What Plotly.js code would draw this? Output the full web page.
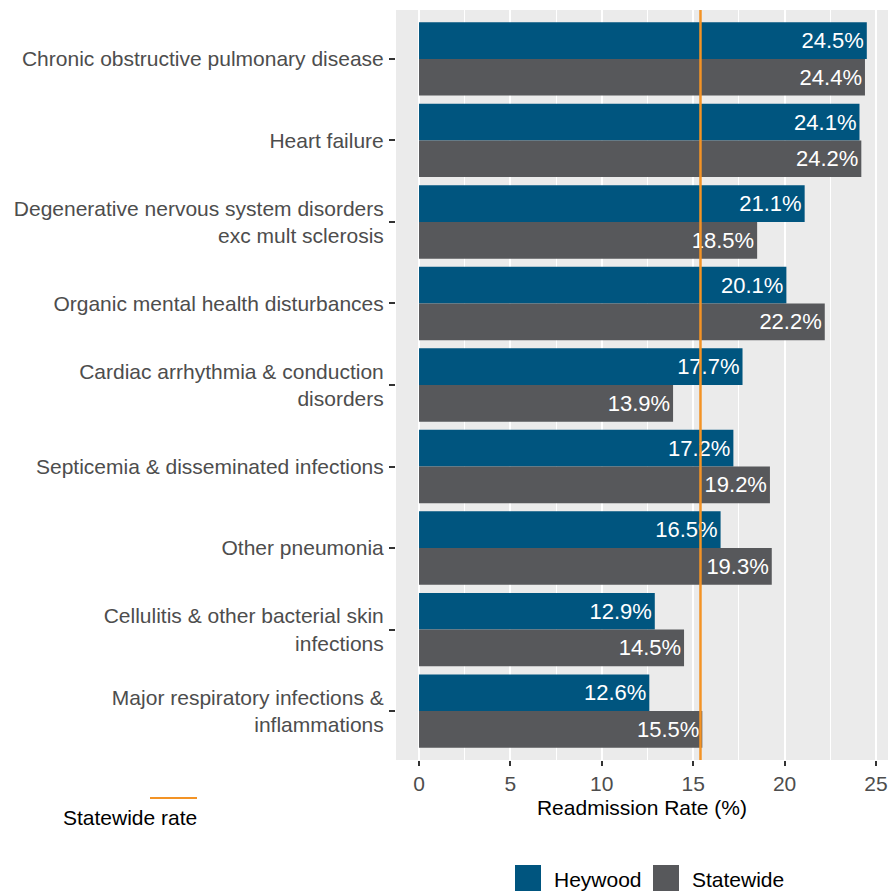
<!DOCTYPE html>
<html>
<head>
<meta charset="utf-8">
<script src="https://cdn.plot.ly/plotly-3.0.1.min.js"></script>
<style>html,body{margin:0;padding:0;background:#fff;}#chart{width:888px;height:891px;}</style>
</head>
<body>
<div id="chart"></div>
<script>
var categories = [
  "Chronic obstructive pulmonary disease",
  "Heart failure",
  "Degenerative nervous system disorders<br>exc mult sclerosis",
  "Organic mental health disturbances",
  "Cardiac arrhythmia & conduction<br>disorders",
  "Septicemia & disseminated infections",
  "Other pneumonia",
  "Cellulitis & other bacterial skin<br>infections",
  "Major respiratory infections &<br>inflammations"
];
var heywood   = [24.5, 24.1, 21.1, 20.1, 17.7, 17.2, 16.5, 12.9, 12.6];
var statewide = [24.4, 24.2, 18.5, 22.2, 13.9, 19.2, 19.3, 14.5, 15.5];
var statewideRate = 15.4;
var xTicks = [0, 5, 10, 15, 20, 25];

var FONT = '"Liberation Sans", Arial, sans-serif';
var C_HEY = '#00557F', C_STATE = '#57585B', C_ORANGE = '#F39325';

// pixel -> paper helpers (plot area: x 396..888, y 10..760)
var L = 396, R = 888, T = 10, B = 760;
function px(x){ return (x - L) / (R - L); }
function py(y){ return (B - y) / (B - T); }

function fmt(v){ return v.toFixed(1) + '%'; }

var traces = [
  {type:'bar', orientation:'h', name:'Heywood', x:heywood, y:categories,
   marker:{color:C_HEY}, text:heywood.map(fmt), textposition:'inside', insidetextanchor:'end',
   textfont:{size:22, color:'#ffffff', family:FONT}, hoverinfo:'skip', showlegend:false},
  {type:'bar', orientation:'h', name:'Statewide', x:statewide, y:categories,
   marker:{color:C_STATE}, text:statewide.map(fmt), textposition:'inside', insidetextanchor:'end',
   textfont:{size:22, color:'#ffffff', family:FONT}, hoverinfo:'skip', showlegend:false}
];

var layout = {
  width:888, height:891,
  margin:{l:L, r:888-R, t:T, b:891-B, pad:0},
  paper_bgcolor:'#ffffff', plot_bgcolor:'#EBEBEB',
  font:{family:FONT, size:21, color:'#4D4D4D'},
  barmode:'group', bargap:0.1, bargroupgap:0,
  showlegend:false,
  xaxis:{
    range:[-1.26, 25.66], autorange:false,
    tickvals:xTicks, ticktext:xTicks.map(String),
    ticks:'outside', ticklen:5, tickwidth:2, tickcolor:'#333333',
    showgrid:true, gridcolor:'#ffffff', gridwidth:2,
    minor:{tick0:0, dtick:2.5, showgrid:true, gridcolor:'#ffffff', gridwidth:1, ticks:''},
    zeroline:false, showline:false,
    tickfont:{size:21, color:'#4D4D4D', family:FONT},
    title:{text:'Readmission Rate (%)', font:{size:21, color:'#000000', family:FONT}, standoff:6}
  },
  yaxis:{
    type:'category', categoryorder:'array', categoryarray:categories,
    range:[8.6, -0.6], autorange:false,
    ticks:'outside', ticklen:6, tickwidth:2, tickcolor:'#333333',
    ticklabelstandoff:1,
    showgrid:false, zeroline:false, showline:false,
    tickfont:{size:21, color:'#4D4D4D', family:FONT}
  },
  shapes:[
    {type:'line', xref:'x', yref:'paper', x0:statewideRate, x1:statewideRate, y0:0, y1:1,
     line:{color:C_ORANGE, width:2.5}, layer:'above'},
    {type:'line', xref:'paper', yref:'paper', x0:px(150), x1:px(197), y0:py(798), y1:py(798),
     line:{color:C_ORANGE, width:2}},
    {type:'rect', xref:'paper', yref:'paper', x0:px(515), x1:px(541), y0:py(865), y1:py(891),
     fillcolor:C_HEY, line:{width:0}},
    {type:'rect', xref:'paper', yref:'paper', x0:px(653), x1:px(679), y0:py(865), y1:py(891),
     fillcolor:C_STATE, line:{width:0}}
  ],
  annotations:[
    {xref:'paper', yref:'paper', x:px(129.5), y:py(817), text:'Statewide rate', showarrow:false,
     xanchor:'center', yanchor:'middle', font:{size:21, color:'#000000', family:FONT}},
    {xref:'paper', yref:'paper', x:px(552), y:py(879), text:'Heywood', showarrow:false,
     xanchor:'left', yanchor:'middle', font:{size:21, color:'#000000', family:FONT}},
    {xref:'paper', yref:'paper', x:px(690), y:py(879), text:'Statewide', showarrow:false,
     xanchor:'left', yanchor:'middle', font:{size:21, color:'#000000', family:FONT}}
  ]
};

Plotly.newPlot('chart', traces, layout, {displayModeBar:false, staticPlot:true});
</script>
</body>
</html>
